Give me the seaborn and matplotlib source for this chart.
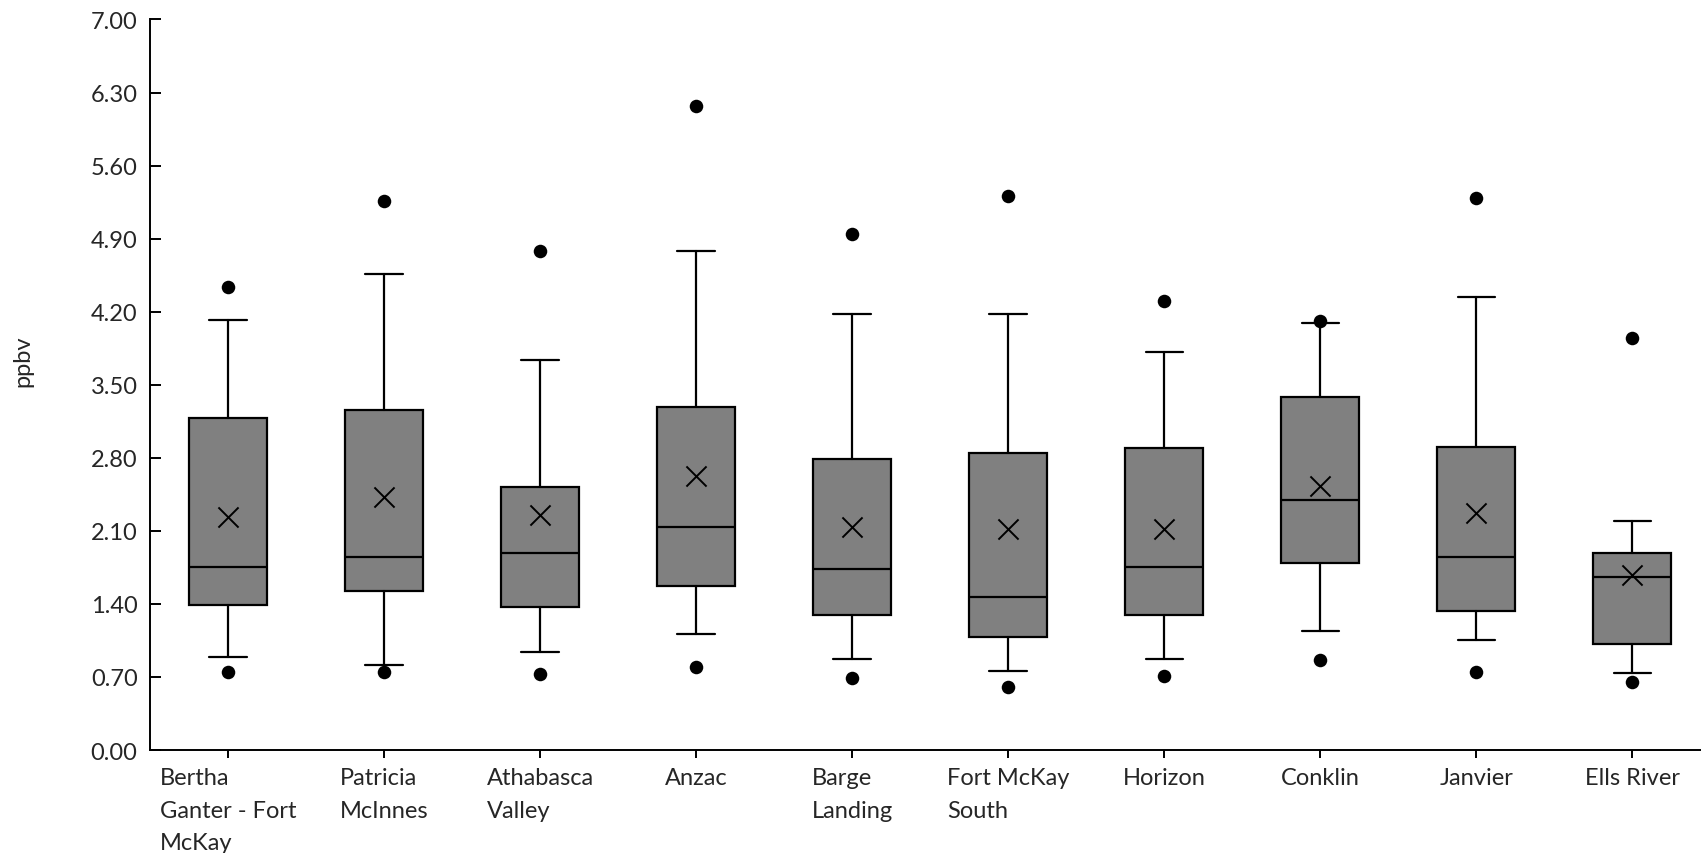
import matplotlib
matplotlib.use("Agg")
import matplotlib.pyplot as plt
import seaborn as sns
import pandas as pd

# Station names (wrapped as shown on the axis)
stations = [
    "Bertha\nGanter - Fort\nMcKay",
    "Patricia\nMcInnes",
    "Athabasca\nValley",
    "Anzac",
    "Barge\nLanding",
    "Fort McKay\nSouth",
    "Horizon",
    "Conklin",
    "Janvier",
    "Ells River",
]

# Box-plot summary statistics (ppbv)
whisker_low = [0.89, 0.81, 0.94, 1.11, 0.87, 0.76, 0.87, 1.14, 1.05, 0.74]
q1 = [1.39, 1.52, 1.37, 1.57, 1.29, 1.08, 1.29, 1.79, 1.33, 1.02]
median = [1.75, 1.85, 1.89, 2.14, 1.73, 1.47, 1.75, 2.40, 1.85, 1.66]
q3 = [3.18, 3.26, 2.52, 3.29, 2.79, 2.85, 2.89, 3.38, 2.90, 1.89]
whisker_high = [4.12, 4.56, 3.74, 4.78, 4.18, 4.18, 3.81, 4.09, 4.34, 2.19]
mean = [2.23, 2.42, 2.25, 2.63, 2.14, 2.12, 2.12, 2.53, 2.27, 1.68]
outlier_low = [0.75, 0.75, 0.73, 0.80, 0.69, 0.60, 0.71, 0.86, 0.75, 0.65]
outlier_high = [4.44, 5.26, 4.78, 6.17, 4.94, 5.31, 4.30, 4.11, 5.29, 3.95]

y_ticks = [0.00, 0.70, 1.40, 2.10, 2.80, 3.50, 4.20, 4.90, 5.60, 6.30, 7.00]

sns.set_style("white")
plt.rcParams["font.family"] = ["Lato", "DejaVu Sans"]

fig = plt.figure(figsize=(17.01, 8.54), dpi=100)
ax = fig.add_axes([0.0882, 0.1206, 0.9118, 0.8554])

positions = list(range(len(stations)))

stats = [
    dict(whislo=wl, q1=a, med=m, q3=b, whishi=wh, fliers=[])
    for wl, a, m, b, wh in zip(whisker_low, q1, median, q3, whisker_high)
]
ax.bxp(
    stats,
    positions=positions,
    widths=0.5,
    patch_artist=True,
    showfliers=False,
    showmeans=False,
    boxprops=dict(facecolor="#808080", edgecolor="black", linewidth=1.6),
    medianprops=dict(color="black", linewidth=1.6),
    whiskerprops=dict(color="black", linewidth=1.6),
    capprops=dict(color="black", linewidth=1.6),
    capwidths=0.24,
    manage_ticks=False,
)

pts = pd.DataFrame({
    "pos": positions * 2,
    "value": outlier_low + outlier_high,
})
sns.scatterplot(data=pts, x="pos", y="value", ax=ax, color="black",
                s=95, marker="o", edgecolor="black", linewidth=0, zorder=5)

means = pd.DataFrame({"pos": positions, "value": mean})
sns.scatterplot(data=means, x="pos", y="value", ax=ax, color="black",
                s=210, marker="x", linewidth=1.4, zorder=6)

ax.set_xlim(-0.5, 9.44)
ax.set_ylim(0, 7.0)
ax.set_yticks(y_ticks)
ax.set_yticklabels([f"{v:.2f}" for v in y_ticks])
ax.set_xticks(positions)
ax.set_xticklabels(stations, ha="center", multialignment="left", linespacing=1.68)

for side in ("top", "right"):
    ax.spines[side].set_visible(False)
for side in ("left", "bottom"):
    ax.spines[side].set_color("black")
    ax.spines[side].set_linewidth(1.4)

ax.tick_params(axis="y", direction="in", length=8, width=1.4, color="black",
               labelsize=17, pad=9, left=True)
ax.tick_params(axis="x", direction="out", length=6, width=1.4, color="black",
               labelsize=17, pad=6.5, bottom=True)

ax.set_xlabel("")
ax.set_ylabel("ppbv", fontsize=17)
ax.yaxis.set_label_coords(-0.0755, 0.533)
ax.grid(False)

fig.savefig("out.png", dpi=100, facecolor="white")
